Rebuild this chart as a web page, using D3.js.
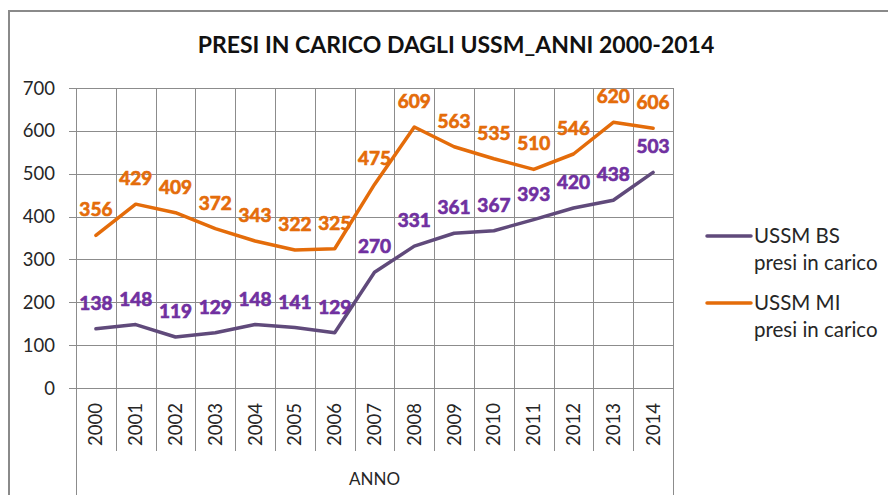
<!DOCTYPE html>
<html>
<head>
<meta charset="utf-8">
<script src="https://cdn.jsdelivr.net/npm/d3@7"></script>
<style>
  body { margin: 0; background: #fff; }
  svg text { font-family: Lato, "Open Sans", sans-serif; }
</style>
</head>
<body>
<script>
// Chart data
var years = ["2000", "2001", "2002", "2003", "2004", "2005", "2006", "2007",
             "2008", "2009", "2010", "2011", "2012", "2013", "2014"];
var ussmBS = [138, 148, 119, 129, 148, 141, 129, 270, 331, 361, 367, 393, 420, 438, 503];
var ussmMI = [356, 429, 409, 372, 343, 322, 325, 475, 609, 563, 535, 510, 546, 620, 606];
var yTicks = [0, 100, 200, 300, 400, 500, 600, 700];
var seriesNames = [["USSM BS", "presi in carico"], ["USSM MI", "presi in carico"]];

var svgWidth = 888;
var svgHeight = 495;

// plot area
var plot = { left: 76, right: 673, top: 88, bottom: 388 };

var svg = d3.select("body")
  .append("svg")
  .attr("width", svgWidth)
  .attr("height", svgHeight);

svg.append("rect")
  .attr("width", svgWidth)
  .attr("height", svgHeight)
  .attr("fill", "#fff");

// outer chart frame (right and bottom are cut off)
svg.append("path")
  .attr("d", "M9,500 V11 H900")
  .attr("fill", "none")
  .attr("stroke", "#8a8a8a")
  .attr("stroke-width", 2);

var x = d3.scaleBand()
  .domain(years)
  .range([plot.left, plot.right]);

var y = d3.scaleLinear()
  .domain([0, 700])
  .range([plot.bottom, plot.top]);

// horizontal gridlines + tick marks
svg.append("g")
  .selectAll("line")
  .data(yTicks)
  .enter()
  .append("line")
  .attr("x1", plot.left - 7)
  .attr("x2", plot.right)
  .attr("y1", d => Math.round(y(d)) + 0.5)
  .attr("y2", d => Math.round(y(d)) + 0.5)
  .attr("stroke", "#8c8c8c")
  .attr("stroke-width", 1);

// vertical gridlines at the category boundaries
var bounds = years.map(d => x(d)).concat([plot.right]);
svg.append("g")
  .selectAll("line")
  .data(bounds)
  .enter()
  .append("line")
  .attr("x1", d => Math.round(d) + 0.5)
  .attr("x2", d => Math.round(d) + 0.5)
  .attr("y1", plot.top)
  .attr("y2", (d, i) => (i === 0 || i === bounds.length - 1) ? 495 : 451)
  .attr("stroke", "#8c8c8c")
  .attr("stroke-width", 1);

// y axis labels
svg.append("g")
  .selectAll("text")
  .data(yTicks)
  .enter()
  .append("text")
  .attr("x", 55)
  .attr("y", d => y(d) + 6.5)
  .attr("text-anchor", "end")
  .attr("font-size", 18.5)
  .attr("fill", "#262626")
  .text(d => d);

// x axis labels (rotated)
svg.append("g")
  .selectAll("text")
  .data(years)
  .enter()
  .append("text")
  .attr("transform", d => `translate(${x(d) + x.bandwidth() / 2 + 6.5}, 403) rotate(-90)`)
  .attr("text-anchor", "end")
  .attr("font-size", 18.5)
  .attr("fill", "#262626")
  .text(d => d);

svg.append("text")
  .attr("x", (plot.left + plot.right) / 2)
  .attr("y", 485)
  .attr("text-anchor", "middle")
  .attr("font-size", 17)
  .attr("fill", "#262626")
  .text("ANNO");

// title
svg.append("text")
  .attr("x", 456)
  .attr("y", 53)
  .attr("text-anchor", "middle")
  .attr("font-size", 23)
  .attr("font-weight", "bold")
  .attr("fill", "#111")
  .text("PRESI IN CARICO DAGLI USSM_ANNI 2000-2014");

var series = [
  { values: ussmBS, line: "#604a7b", label: "#7030a0" },
  { values: ussmMI, line: "#e46c0a", label: "#e46c0a" }
];

var lineGen = d3.line()
  .x((d, i) => x(years[i]) + x.bandwidth() / 2)
  .y(d => y(d));

series.forEach(function(s) {
  svg.append("path")
    .datum(s.values)
    .attr("d", lineGen)
    .attr("fill", "none")
    .attr("stroke", s.line)
    .attr("stroke-width", 3.5)
    .attr("stroke-linejoin", "round")
    .attr("stroke-linecap", "round");
});

// data labels above each point (heavy weight like the original)
series.forEach(function(s) {
  svg.append("g")
    .selectAll("text")
    .data(s.values)
    .enter()
    .append("text")
    .attr("x", (d, i) => x(years[i]) + x.bandwidth() / 2)
    .attr("y", d => y(d) - 19)
    .attr("text-anchor", "middle")
    .attr("font-size", 19)
    .attr("font-weight", "bold")
    .attr("fill", s.label)
    .attr("stroke", s.label)
    .attr("stroke-width", 0.7)
    .text(d => d);
});

// legend
var legend = svg.append("g");
series.forEach(function(s, i) {
  var ly = 236 + i * 67;
  legend.append("line")
    .attr("x1", 707)
    .attr("x2", 751)
    .attr("y1", ly)
    .attr("y2", ly)
    .attr("stroke", s.line)
    .attr("stroke-width", 3.5)
    .attr("stroke-linecap", "round");
  seriesNames[i].forEach(function(t, j) {
    legend.append("text")
      .attr("x", 754)
      .attr("y", ly + 7 + j * 27)
      .attr("font-size", 20.5)
      .attr("fill", "#262626")
      .text(t);
  });
});
</script>
</body>
</html>
